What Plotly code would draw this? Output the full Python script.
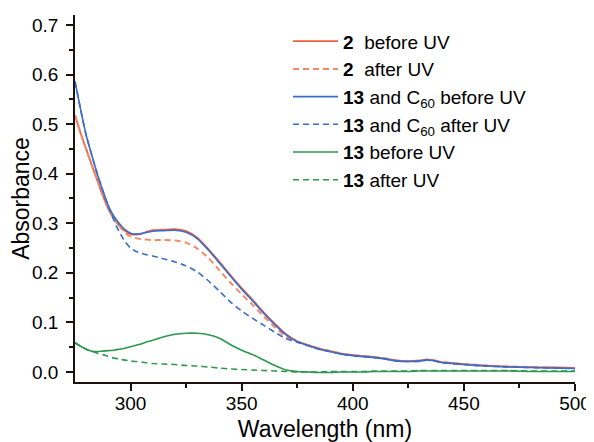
import plotly.graph_objects as go

wavelength = [275, 277.5, 280, 282.5, 285, 287.5, 290, 292.5, 295, 297.5, 300, 302.5, 305, 307.5, 310,
              315, 320, 325, 330, 335, 340, 345, 350, 355, 360, 365, 370, 375, 380, 385, 390, 395, 400,
              405, 410, 415, 420, 425, 430, 433, 436, 440, 445, 450, 460, 470, 480, 490, 500]

c13_c60_before = [0.586, 0.530, 0.478, 0.438, 0.400, 0.366, 0.335, 0.314, 0.299, 0.287, 0.280, 0.278, 0.279, 0.282, 0.284,
                  0.285, 0.286, 0.282, 0.269, 0.246, 0.220, 0.193, 0.167, 0.143, 0.118, 0.095, 0.075, 0.061, 0.053, 0.046, 0.041, 0.036, 0.033,
                  0.031, 0.029, 0.026, 0.022, 0.021, 0.022, 0.024, 0.023, 0.019, 0.017, 0.015, 0.012, 0.010, 0.009, 0.008, 0.007]

c2_before = [0.518, 0.482, 0.450, 0.418, 0.387, 0.356, 0.329, 0.309, 0.295, 0.285, 0.278, 0.277, 0.279, 0.283, 0.286,
             0.287, 0.288, 0.284, 0.271, 0.248, 0.222, 0.195, 0.169, 0.145, 0.120, 0.097, 0.076, 0.062, 0.054, 0.047, 0.042, 0.037, 0.034,
             0.032, 0.030, 0.027, 0.023, 0.022, 0.023, 0.025, 0.024, 0.020, 0.018, 0.016, 0.013, 0.011, 0.010, 0.009, 0.008]

c2_after = [0.518, 0.482, 0.450, 0.418, 0.387, 0.356, 0.329, 0.309, 0.294, 0.281, 0.273, 0.270, 0.268, 0.267, 0.266,
            0.266, 0.265, 0.261, 0.249, 0.230, 0.205, 0.180, 0.157, 0.135, 0.112, 0.090, 0.071, 0.061, 0.054, 0.047, 0.042, 0.037, 0.034,
            0.032, 0.030, 0.027, 0.023, 0.022, 0.023, 0.025, 0.024, 0.020, 0.018, 0.016, 0.013, 0.011, 0.010, 0.009, 0.008]

c13_c60_after = [0.586, 0.530, 0.478, 0.438, 0.400, 0.366, 0.334, 0.306, 0.282, 0.263, 0.250, 0.243, 0.239, 0.236, 0.234,
                 0.228, 0.222, 0.214, 0.202, 0.184, 0.163, 0.141, 0.123, 0.108, 0.094, 0.080, 0.067, 0.060, 0.053, 0.046, 0.041, 0.036, 0.033,
                 0.031, 0.029, 0.026, 0.022, 0.021, 0.022, 0.024, 0.023, 0.019, 0.017, 0.015, 0.012, 0.010, 0.009, 0.008, 0.007]

c13_before = [0.059, 0.052, 0.046, 0.042, 0.041, 0.042, 0.043, 0.044, 0.046, 0.048, 0.051, 0.054, 0.057, 0.061, 0.064,
              0.071, 0.076, 0.078, 0.078, 0.075, 0.068, 0.055, 0.044, 0.035, 0.024, 0.013, 0.004, 0.001, 0.000, -0.001, -0.001, 0.000, 0.000,
              0.000, 0.001, 0.001, 0.001, 0.001, 0.002, 0.002, 0.002, 0.002, 0.002, 0.002, 0.002, 0.002, 0.001, 0.001, 0.001]

c13_after = [0.059, 0.052, 0.046, 0.042, 0.038, 0.035, 0.031, 0.028, 0.026, 0.024, 0.022, 0.021, 0.020, 0.018, 0.017,
             0.016, 0.015, 0.013, 0.012, 0.010, 0.008, 0.006, 0.005, 0.004, 0.003, 0.002, 0.001, 0.000, 0.000, 0.000, 0.001, 0.001, 0.001,
             0.001, 0.002, 0.002, 0.002, 0.002, 0.003, 0.003, 0.003, 0.003, 0.003, 0.003, 0.003, 0.003, 0.002, 0.002, 0.002]

series_names = ["<b>2</b>  before UV", "<b>2</b>  after UV",
                "<b>13</b> and C<sub>60</sub> before UV", "<b>13</b> and C<sub>60</sub> after UV",
                "<b>13</b> before UV", "<b>13</b> after UV"]
series_values = [c2_before, c2_after, c13_c60_before, c13_c60_after, c13_before, c13_after]
series_colors = ["#f0603c", "#f48a64", "#3a6cc8", "#3a6cc8", "#2f9650", "#2f9650"]
series_dash = ["solid", "6px,4px", "solid", "6px,4px", "solid", "6px,4px"]
series_width = [1.8, 2.0, 1.6, 1.6, 1.6, 1.6]

fig = go.Figure()
for name, vals, col, dash, w in zip(series_names, series_values, series_colors, series_dash, series_width):
    fig.add_trace(go.Scatter(x=wavelength, y=vals, mode="lines", name=name,
                             line=dict(color=col, width=w, dash=dash, shape="spline", smoothing=0.6)))

font_family = "Liberation Sans, Arial, sans-serif"
axis_col = "#1a1010"
# the page body adds an 8px margin, so the figure is 8px smaller than the window
fig.update_layout(
    width=586, height=434,
    margin=dict(l=67, r=19, t=7, b=60, autoexpand=False),
    paper_bgcolor="white", plot_bgcolor="white",
    font=dict(family=font_family, size=19, color="black"),
    showlegend=True,
    legend=dict(x=0.426, y=0.98, xanchor="left", yanchor="top", bgcolor="rgba(0,0,0,0)",
                font=dict(size=19), itemwidth=45, tracegroupgap=0),
    xaxis=dict(range=[275, 500], tickvals=[300, 350, 400, 450, 500], showline=True, linewidth=1.7,
               linecolor=axis_col, ticks="outside", ticklen=7, tickwidth=1.5, tickcolor=axis_col,
               showgrid=False, zeroline=False, tickfont=dict(size=19), ticklabelstandoff=-4,
               automargin=False,
               minor=dict(tickvals=[325, 375, 425, 475], ticks="outside", ticklen=4, tickwidth=1.5, tickcolor=axis_col),
               title=dict(text="Wavelength (nm)", font=dict(size=23), standoff=8)),
    yaxis=dict(range=[-0.0202, 0.72], tickvals=[0, 0.1, 0.2, 0.3, 0.4, 0.5, 0.6, 0.7],
               ticktext=["0.0", "0.1", "0.2", "0.3", "0.4", "0.5", "0.6", "0.7"], showline=True, linewidth=1.7,
               linecolor=axis_col, ticks="outside", ticklen=7, tickwidth=1.5, tickcolor=axis_col,
               showgrid=False, zeroline=False, tickfont=dict(size=19), ticklabelstandoff=4,
               automargin=False,
               minor=dict(tickvals=[0.05, 0.15, 0.25, 0.35, 0.45, 0.55, 0.65], ticks="outside", ticklen=4,
                          tickwidth=1.5, tickcolor=axis_col),
               title=dict(text="Absorbance", font=dict(size=23), standoff=4)),
)

fig.write_html("out.html")
